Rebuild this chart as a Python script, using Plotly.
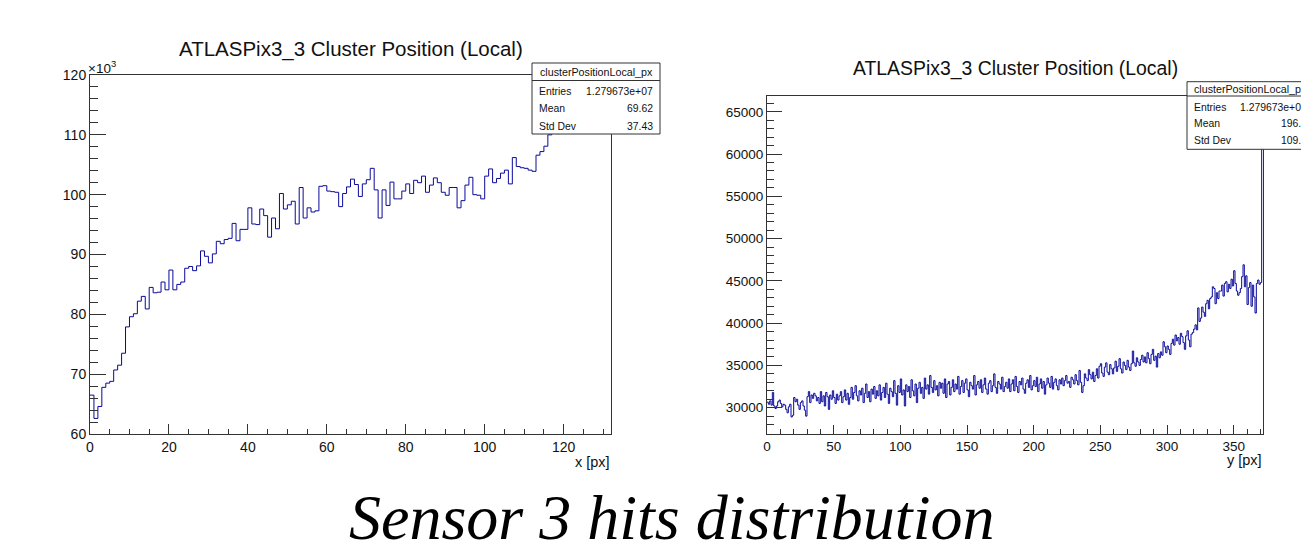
import plotly.graph_objects as go

W, H = 1301, 545

# ---------------- data ----------------
# Left histogram: cluster position x [px], 132 bins, counts in units of 10^3
left_counts_k = [
    66.5, 62.6, 64.6, 67.8, 68.5, 68.8, 70.7, 71.5, 73.5, 77.9,
    79.6, 80.1, 82.2, 83.0, 80.9, 84.5, 83.6, 83.7, 85.4, 84.1,
    87.4, 84.1, 85.0, 85.4, 87.7, 88.0, 87.3, 88.1, 90.6, 89.7,
    88.6, 90.1, 92.2, 91.8, 92.5, 92.7, 95.2, 92.3, 94.2, 94.2,
    97.8, 95.1, 95.0, 97.6, 96.5, 92.9, 96.1, 94.3, 100.2, 97.6,
    98.3, 98.9, 95.1, 101.2, 96.1, 97.8, 97.1, 97.3, 101.4, 101.5,
    100.6, 100.5, 100.4, 98.0, 100.2, 101.3, 102.6, 101.7, 99.7, 101.8,
    102.5, 104.4, 100.8, 96.1, 100.8, 98.2, 102.1, 99.3, 99.3, 100.6,
    101.8, 100.2, 102.4, 102.0, 103.1, 100.4, 101.6, 102.8, 102.0, 100.4,
    99.9, 101.2, 101.2, 97.8, 99.0, 101.6, 102.9, 100.0, 99.9, 99.3,
    103.1, 104.3, 102.0, 102.7, 103.6, 104.1, 101.8, 106.2, 104.7, 104.5,
    104.4, 104.1, 103.9, 106.6, 107.2, 108.1, 110.0, 110.6, 110.2, 110.8,
    111.5, 112.4, 111.8, 113.1, 112.6, 113.9, 113.2, 114.5, 113.8, 114.9,
    114.2, 114.6,
]

# Right histogram: cluster position y [px], 372 bins, counts
right_counts = [
    30650, 30400, 30800, 30300, 31800, 30200, 29900, 30200, 30700, 30900,
    30500, 30100, 30400, 30300, 29800, 29400, 30100, 30400, 28900, 29100,
    31200, 30700, 31000, 30300, 29800, 30600, 30800, 30200, 29700, 29000,
    31300, 31900, 30600, 31500, 31100, 31700, 31400, 30800, 31200, 30500,
    31900, 30700, 31400, 30200, 31800, 31300, 29800, 31500, 31000, 32000,
    31200, 30500, 31600, 30900, 31400, 31900, 30600, 31300, 32100, 30900,
    31700, 30400, 31200, 32400, 31000, 31800, 32600, 31400, 30800, 32000,
    31500, 32300, 30600, 31700, 32800, 31200, 31900, 30700, 32200, 31600,
    32500, 31100, 32000, 31400, 32700, 30900, 31800, 32400, 31200, 32900,
    31600, 30500, 32300, 31900, 31300, 33200, 31700, 30300, 32600, 31800,
    33400, 31500, 32100, 30200, 32700, 31900, 32500, 31200, 33300, 32000,
    31400, 32800, 30600, 32300, 33000, 31700, 32400, 31100, 33500, 32200,
    32700, 31600, 33800, 32400, 31800, 33200, 32100, 32600, 31400, 33000,
    32300, 32900, 31700, 33400, 31200, 32800, 33100, 31500, 32400, 33300,
    31900, 32800, 32200, 33700, 31600, 32500, 33200, 31800, 32900, 33400,
    32100, 31300, 33000, 32600, 32200, 33800, 31500, 32700, 33100, 32300,
    33300, 31800, 32700, 33500, 32200, 31600, 32900, 33200, 31900, 32600,
    34000, 32400, 31700, 33100, 32800, 32200, 33600, 31900, 32500, 33000,
    32300, 33400, 31900, 32800, 33300, 32000, 33700, 32500, 31800, 33100,
    32700, 33500, 32200, 31700, 32900, 33300, 32400, 33800, 32100, 32600,
    33200, 32500, 33600, 31900, 32800, 33400, 32300, 33100, 31600, 32700,
    33500, 32900, 32400, 33700, 32200, 33000, 33400, 32600, 32100, 33300,
    32800, 33500, 32600, 33200, 33800, 32900, 33100, 32400, 33600, 33300,
    32800, 33900, 33200, 32700, 34400, 33000, 31800, 32600, 34000, 33500,
    33200, 34500, 33900, 33400, 34200, 33100, 33800, 34600, 33500, 34900,
    35200, 34100, 33700, 34800, 35300, 34200, 33900, 35100, 34600, 34000,
    34700, 35500, 34300, 34900, 35800, 34600, 34100, 35400, 35000, 34500,
    35600, 34800, 34400, 35200, 36700, 35300, 34900, 35900, 35400, 35000,
    35700, 36200, 35400, 36000, 35300, 36500, 35800, 35200, 36300, 36900,
    35600, 36100, 34800, 36400, 35900, 36600, 36200, 37800, 37200, 36500,
    37300, 36900, 36300, 37600, 38100, 37400, 38600, 37900, 38300, 37500,
    38800, 38400, 37700, 36900, 38500, 39100, 38000, 37200, 38700, 38900,
    39300, 39800, 39200, 41800, 40200, 40600, 41900, 41300, 40800, 42300,
    42700, 41700, 42900, 43100, 44300, 44100, 42300, 43600, 42900, 43800,
    43800, 44500, 43200, 44700, 44900, 43700, 44600, 44100, 45200, 44400,
    46200, 44700, 43800, 43300, 43600, 44100, 45500, 46900, 44300, 45600,
    42200, 44200, 44800, 42000, 44500, 43100, 41200, 44700, 45100, 44600,
    44800, 65050,
]

plot_title = "ATLASPix3_3 Cluster Position (Local)"
stats_name = "clusterPositionLocal_px"
stats_left = [("Entries", "1.279673e+07"), ("Mean", "69.62"), ("Std Dev", "37.43")]
stats_right = [("Entries", "1.279673e+07"), ("Mean", "196.8"), ("Std Dev", "109.3")]
caption = "Sensor 3 hits distribution"


def px(x):
    return x / W


def py(y):
    return 1 - y / H


HIST_COLOR = "#0a0a9a"
FRAME = "#333333"
SANS = "Liberation Sans, Arial, sans-serif"

left_edges = list(range(len(left_counts_k) + 1))
left_steps = left_counts_k + [left_counts_k[-1]]
right_edges = list(range(len(right_counts) + 1))
right_steps = right_counts + [right_counts[-1]]

fig = go.Figure()
fig.add_trace(go.Scatter(x=left_edges, y=left_steps, mode="lines",
                         line=dict(color=HIST_COLOR, width=1, shape="hv"),
                         xaxis="x", yaxis="y", hoverinfo="skip", showlegend=False))
fig.add_trace(go.Scatter(x=right_edges, y=right_steps, mode="lines",
                         line=dict(color=HIST_COLOR, width=1, shape="hv"),
                         xaxis="x2", yaxis="y2", hoverinfo="skip", showlegend=False))


def axis(domain, rng, dtick, minor_dtick, ticklen, minor_len, anchor, fsize, fmt=None):
    d = dict(domain=domain, range=rng, anchor=anchor, showline=True, mirror=True,
             automargin=False,
             linecolor=FRAME, linewidth=1, ticks="inside", ticklen=ticklen, tickwidth=1,
             tickcolor=FRAME, dtick=dtick, tick0=0, showgrid=False, zeroline=False,
             tickfont=dict(family=SANS, size=fsize, color="#111"),
             minor=dict(ticks="inside", ticklen=minor_len, dtick=minor_dtick, tick0=0,
                        tickcolor=FRAME, tickwidth=1, showgrid=False))
    if fmt:
        d["tickformat"] = fmt
    return d


layout = dict(
    width=W, height=H, autosize=False,
    margin=dict(l=0, r=0, t=0, b=0, pad=0, autoexpand=False),
    paper_bgcolor="white", plot_bgcolor="white",
    showlegend=False,
    xaxis=axis([px(90), px(611)], [0, 132], 20, 5, 10, 5, "y", 14),
    yaxis=axis([py(434), py(75)], [60, 120], 10, 2, 16, 8, "x", 14, "d"),
    xaxis2=axis([px(767), px(1263)], [0, 372], 50, 10, 9, 4.5, "y2", 13.5),
    yaxis2=axis([py(433.5), py(96)], [26945, 66870], 5000, 1000, 15, 7, "x2", 13.5, "d"),
)
fig.update_layout(**layout)

shapes = []
annotations = []


def text(x, y, s, size, xanchor="center", yanchor="middle", family=SANS, color="#111"):
    annotations.append(dict(x=px(x), y=py(y), xref="paper", yref="paper", text=s,
                            showarrow=False, xanchor=xanchor, yanchor=yanchor,
                            font=dict(family=family, size=size, color=color),
                            borderpad=0))


# titles
text(350.5, 49, plot_title, 20.5)
text(1015, 68.3, plot_title, 19.4)

# axis titles
text(611, 462, "x [px]", 14.5, xanchor="right")
text(1263, 459.5, "y [px]", 14.5, xanchor="right")

# x10^3 multiplier
text(87, 77, "×10<sup>3</sup>", 13.5, xanchor="left", yanchor="bottom")


def stats_box(x0, x1, y0, ysep, y1, rows_y, title_y, rows, fsize):
    shapes.append(dict(type="rect", xref="paper", yref="paper",
                       x0=px(x0), x1=px(x1), y0=py(y1), y1=py(y0),
                       fillcolor="white", line=dict(color=FRAME, width=1), layer="above"))
    shapes.append(dict(type="line", xref="paper", yref="paper",
                       x0=px(x0), x1=px(x1), y0=py(ysep), y1=py(ysep),
                       line=dict(color=FRAME, width=1), layer="above"))
    text((x0 + x1) / 2, title_y, stats_name, fsize + 0.3)
    for (lab, val), yy in zip(rows, rows_y):
        text(x0 + 6, yy, lab, fsize, xanchor="left")
        text(x1 - 6, yy, val, fsize, xanchor="right")


stats_box(532, 660, 63, 80.5, 134, [91.7, 109, 126.5], 72.3, stats_left, 10.4)
stats_box(1187, 1314, 81.7, 96, 149.3, [107.3, 123.8, 141], 89.3, stats_right, 10.4)

# caption
text(671, 517, "<i>" + caption + "</i>", 64, family="Liberation Serif, Times New Roman, serif",
     color="#000")

fig.update_layout(shapes=shapes, annotations=annotations)

fig.write_html("out.html")
